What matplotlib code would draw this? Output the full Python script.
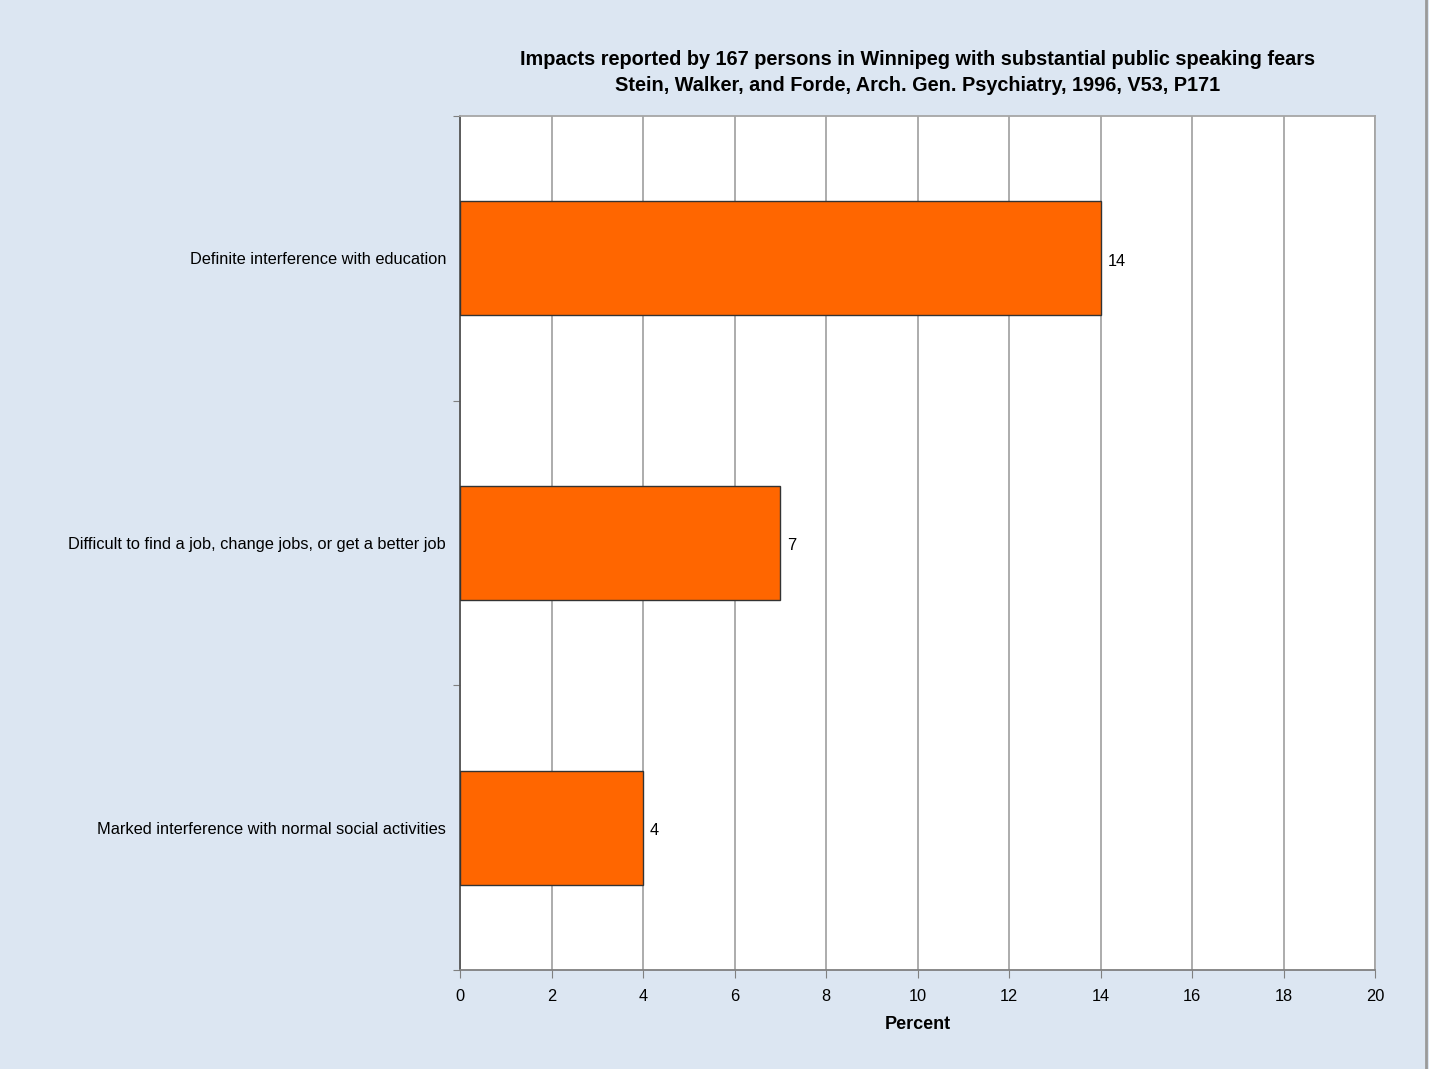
import matplotlib.pyplot as plt
from matplotlib.lines import Line2D

plt.rcParams['font.family'] = ['Liberation Sans', 'DejaVu Sans']

categories = ["Definite interference with education",
              "Difficult to find a job, change jobs, or get a better job",
              "Marked interference with normal social activities"]
values = [14, 7, 4]
x_ticks = [0, 2, 4, 6, 8, 10, 12, 14, 16, 18, 20]

BG = '#dce6f2'
BAR = '#ff6600'

fig = plt.figure(figsize=(14.29, 10.69), dpi=100, facecolor=BG)
ax = fig.add_axes([460 / 1429, 1 - 970 / 1069, (1375 - 460) / 1429, (970 - 116) / 1069])
ax.set_facecolor('white')

pos = list(range(len(categories)))
ax.barh(pos, values, height=0.4, color=BAR, edgecolor='#333333', linewidth=1.0, zorder=3)
for p, v in zip(pos, values):
    ax.text(v + 0.15, p + 0.01, str(v), va='center', ha='left', fontsize=11.8, zorder=4)

ax.set_xlim(0, 20)
ax.set_ylim(len(categories) - 0.5, -0.5)
ax.set_xticks(x_ticks)
ax.set_xticklabels([str(t) for t in x_ticks], fontsize=11.8)
ax.xaxis.grid(True, color='#a6a6a6', linewidth=1.3, zorder=0)

# ticks at category boundaries, labels centred
ax.set_yticks([i - 0.5 for i in range(len(categories) + 1)])
ax.set_yticklabels([])
ax.set_yticks(pos, minor=True)
ax.set_yticklabels(categories, minor=True, fontsize=11.8)
ax.tick_params(axis='y', which='minor', length=0, pad=10)
ax.tick_params(axis='y', which='major', length=5, color='#808080')
ax.tick_params(axis='x', length=6, color='#808080', pad=8)

for s in ['top', 'right']:
    ax.spines[s].set_color('#a6a6a6')
    ax.spines[s].set_linewidth(1.3)
ax.spines['left'].set_color('#555555')
ax.spines['bottom'].set_color('#808080')
ax.spines['left'].set_linewidth(1.3)
ax.spines['bottom'].set_linewidth(1.3)

ax.set_xlabel("Percent", fontsize=13, fontweight='bold', labelpad=8)
ax.set_title("Impacts reported by 167 persons in Winnipeg with substantial public speaking fears\n"
             "Stein, Walker, and Forde, Arch. Gen. Psychiatry, 1996, V53, P171",
             fontsize=14.3, fontweight='bold', pad=18, linespacing=1.45)

# thin border on the right edge of the picture
fig.add_artist(Line2D([1426 / 1429, 1426 / 1429], [0, 1], color='#9a9a9a', linewidth=2,
                      transform=fig.transFigure))

fig.savefig("out.png", dpi=100, facecolor=BG)
